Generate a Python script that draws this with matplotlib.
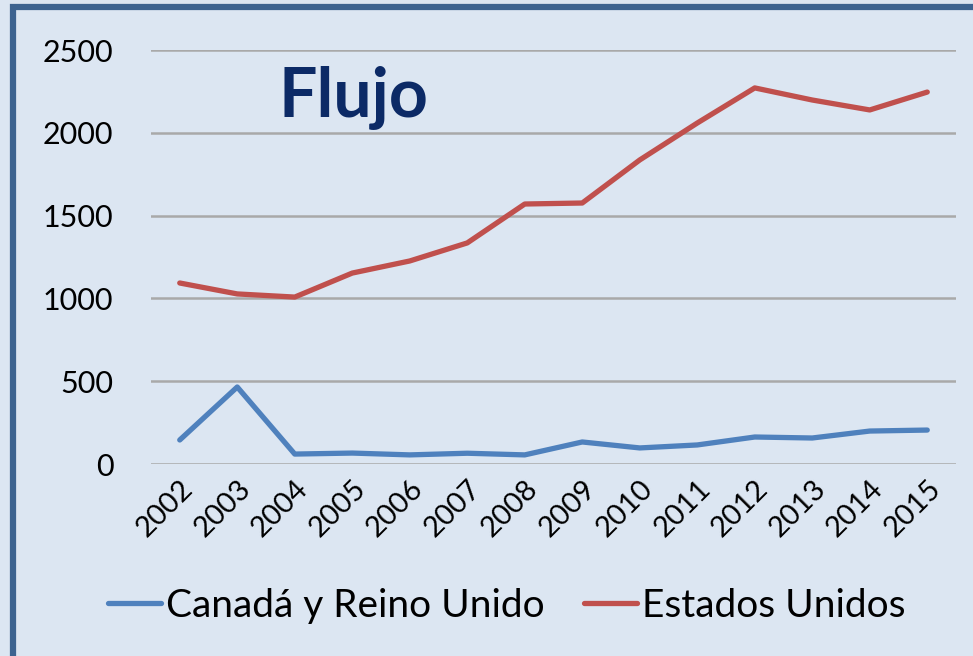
import matplotlib
matplotlib.use("Agg")
import matplotlib.pyplot as plt
import matplotlib.patches as mpatches

years = ["2002", "2003", "2004", "2005", "2006", "2007", "2008",
         "2009", "2010", "2011", "2012", "2013", "2014", "2015"]
canada_ru = [145, 465, 60, 66, 55, 65, 55, 133, 97, 115, 163, 157, 199, 205]
estados_unidos = [1093, 1027, 1008, 1153, 1226, 1335, 1570, 1576, 1836, 2059,
                  2271, 2198, 2138, 2246]
yticks = [0, 500, 1000, 1500, 2000, 2500]

BG = "#dce6f2"
FONT = ["Lato", "DejaVu Sans"]

fig = plt.figure(figsize=(9.73, 6.56), dpi=100, facecolor=BG)

# dark blue frame on the left and top (cut off on the right/bottom)
fig.patches.append(mpatches.Rectangle((13 / 973, -0.1), 1.2, (656 - 7) / 656 + 0.1,
                                      transform=fig.transFigure, fill=False,
                                      edgecolor="#3d6390", linewidth=4.5))

ax = fig.add_axes([151 / 973, 1 - 464 / 656, (956 - 151) / 973, (464 - 50) / 656])
ax.set_facecolor(BG)

x = list(range(len(years)))
ax.plot(x, canada_ru, color="#4f81bd", linewidth=3.8, label="Canadá y Reino Unido",
        solid_joinstyle="round", solid_capstyle="round")
ax.plot(x, estados_unidos, color="#c0504d", linewidth=3.8, label="Estados Unidos",
        solid_joinstyle="round", solid_capstyle="round")

ax.set_xlim(-0.5, len(years) - 0.5)
ax.set_ylim(0, 2500)
ax.set_yticks(yticks)
ax.set_yticklabels([str(v) for v in yticks], family=FONT, fontsize=22)
ax.set_xticks(x)
ax.set_xticklabels(years, family=FONT, fontsize=21, rotation=45,
                   ha="right", va="top", rotation_mode="anchor")
ax.tick_params(axis="y", length=0, pad=27)
ax.tick_params(axis="x", length=0, pad=8)
ax.grid(axis="y", color="#a9a9a9", linewidth=1.8)
ax.set_axisbelow(True)
for s in ax.spines.values():
    s.set_visible(False)

fig.text(279 / 973, 1 - 98 / 656, "Flujo", family=FONT,
         fontsize=49, fontweight="bold", color="#0c2a66", va="center", ha="left")

leg = fig.legend(loc="center", bbox_to_anchor=(507 / 973, 1 - 606 / 656),
                 ncol=2, frameon=False, prop={"family": FONT, "size": 28},
                 handlelength=1.35, handletextpad=0.15, columnspacing=1.0)

plt.savefig("out.png", dpi=100, facecolor=BG)
